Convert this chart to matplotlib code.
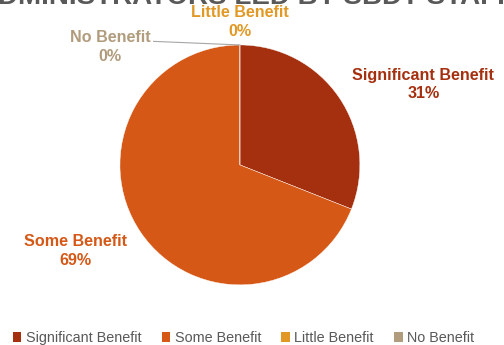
import matplotlib.pyplot as plt
from matplotlib.patches import Patch

plt.rcParams['font.family'] = ['Liberation Sans', 'DejaVu Sans']

categories = ["Significant Benefit", "Some Benefit", "Little Benefit", "No Benefit"]
values = [31, 69, 0, 0]
colors = ["#A5300F", "#D55816", "#E19825", "#B19C7D"]

# label positions in pie units (radius = 1)
label_pos = [(1.53, 0.67), (-1.37, -0.72), (0.0, 1.19), (-1.08, 0.98)]

fig = plt.figure(figsize=(5.04, 3.45), dpi=100)
fig.patch.set_facecolor('white')

# title, cut off by the top edge as in the source image
fig.text(514 / 504, 1 - 3.5 / 345, "ADMINISTRATORS LED BY SBDT STAFF", ha='right', va='baseline',
         fontsize=20, fontweight='bold', color='#595959')

ax = fig.add_axes([0.476 - 0.476 / 2 * 1.5, 0.522 - 0.696 / 2 * 1.5, 0.476 * 1.5, 0.696 * 1.5])
ax.pie(values, colors=colors, startangle=90, counterclock=False, radius=1,
       wedgeprops=dict(edgecolor='white', linewidth=0.3))
ax.set_xlim(-1.5, 1.5)
ax.set_ylim(-1.5, 1.5)
ax.set_aspect('equal')
ax.axis('off')

total = sum(values)
for cat, v, c, (x, y) in zip(categories, values, colors, label_pos):
    ax.text(x, y, f"{cat}\n{round(100 * v / total)}%", ha='center', va='center',
            fontsize=11.6, fontweight='bold', color=c, linespacing=1.32)

# leader line for "No Benefit"
ax.plot([-0.72, 0.0], [1.03, 1.0], color='#A6A6A6', linewidth=0.8, clip_on=False)

handles = [Patch(facecolor=c, edgecolor='none') for c in colors]
fig.legend(handles, categories, loc='center', bbox_to_anchor=(0.483, 0.02), ncol=4,
           frameon=False, fontsize=10.4, handlelength=0.6, handleheight=0.6,
           handletextpad=0.3, columnspacing=1.4, labelcolor='#595959')

fig.savefig("out.png", dpi=100)
